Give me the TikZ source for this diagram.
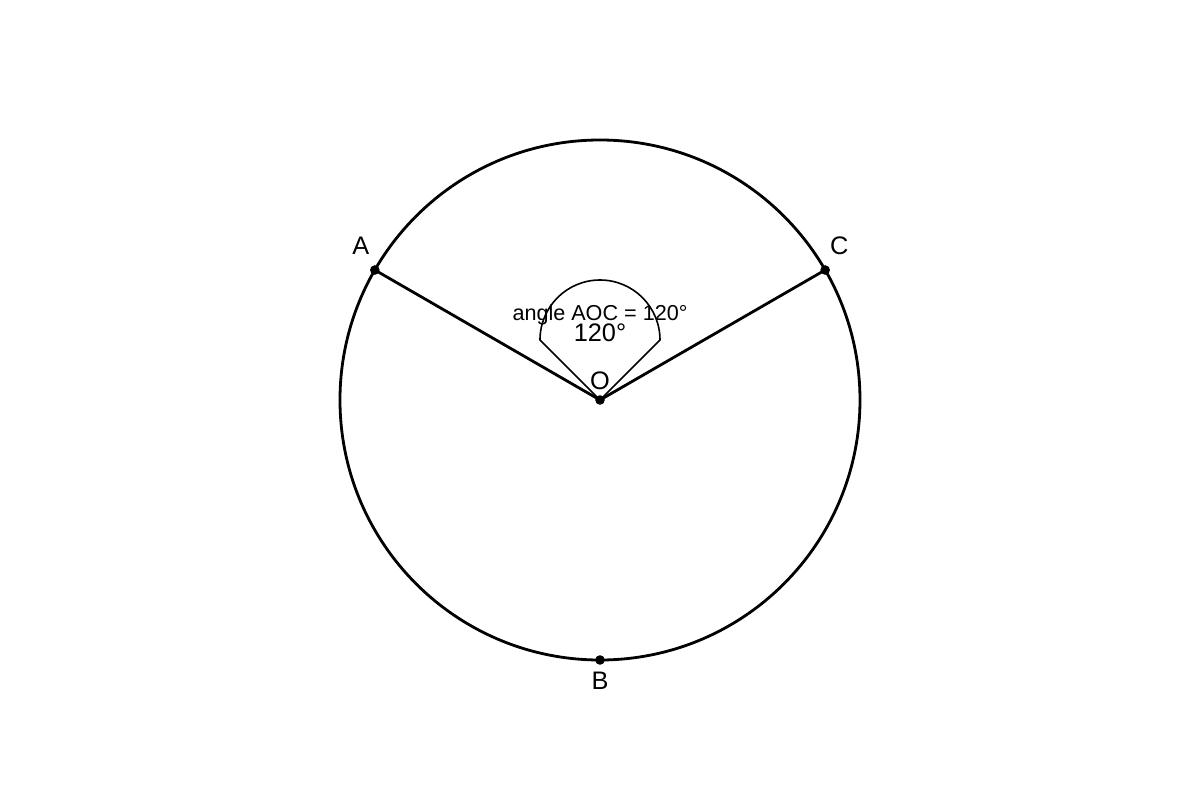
\documentclass[tikz,border=0pt]{standalone}
\usepackage{fontspec}
\setmainfont{Liberation Sans}
\usetikzlibrary{calc}

\begin{document}
\begin{tikzpicture}[x=0.75pt,y=0.75pt,
  pt/.style={fill=black},
  lbl/.style={inner sep=0pt,font=\fontsize{19}{21}\selectfont},
  small/.style={inner sep=0pt,font=\fontsize{16.2}{18}\selectfont}]
  \useasboundingbox (-600,-400) rectangle (600,400);
  \coordinate (O) at (0,0);
  \coordinate (A) at (150:260);
  \coordinate (C) at (30:260);
  \coordinate (B) at (270:260);
  \coordinate (p) at (-60,60);
  \coordinate (q) at (60,60);
  \draw[line width=2.1pt] (O) circle (260);
  \draw[line width=2.1pt] (A) -- (O) -- (C);
  \draw[line width=1.2pt] (O) -- (p) arc (180:0:60) -- (O);
  \fill[pt] (O) circle (4.8);
  \fill[pt] (A) circle (4.8);
  \fill[pt] (C) circle (4.8);
  \fill[pt] (B) circle (4.8);
  \node[lbl] (la) at ($(A)+(-14,24)$) {A};
  \node[lbl] (lc) at ($(C)+(14,24)$) {C};
  \node[lbl] (lb) at ($(B)+(0,-21)$) {B};
  \node[lbl] (lo) at ($(O)+(0,19)$) {O};
  \node[small] (t1) at (0,85.5) {angle AOC = 120°};
  \node[lbl] (t2) at (0,67) {120°};
\end{tikzpicture}
\end{document}
